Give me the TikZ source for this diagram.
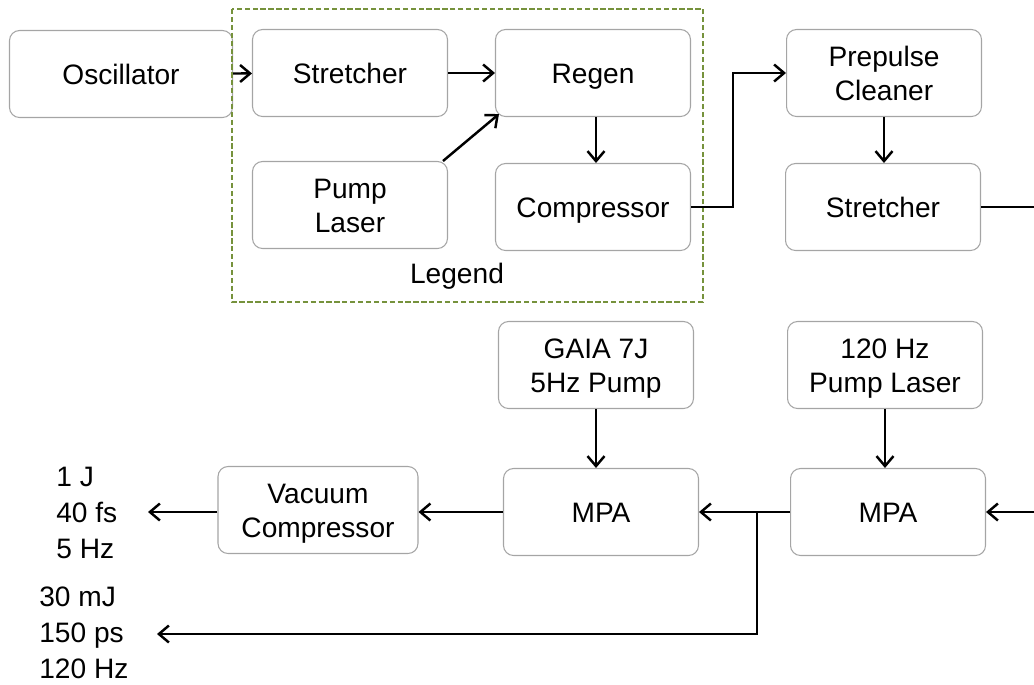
\documentclass[tikz,border=0pt]{standalone}
\usepackage{fontspec}
\setmainfont{Liberation Sans}
\usetikzlibrary{arrows.meta}
\definecolor{boxgray}{RGB}{165,165,165}
\definecolor{legendgreen}{RGB}{118,146,60}

\tikzset{
  block/.style={draw=boxgray, line width=0.6pt, rounded corners=0.2cm,
    minimum width=3.9cm, minimum height=1.74cm, align=center,
    font=\fontsize{16}{19.4}\selectfont, text height=11.5pt, text depth=0pt},
  twoline/.style={text height=30.9pt},
  beam/.style={line width=1.4pt, -{Straight Barb[length=2mm,width=3.4mm]}},
  plainbeam/.style={line width=1.4pt},
  spec/.style={align=left, inner sep=0pt, font=\fontsize{16}{20.5}\selectfont}
}

\begin{document}
\begin{tikzpicture}[x=0.02cm, y=-0.02cm]
    \useasboundingbox (0,0) rectangle (1034,684);
    %Front end
    \node[block, minimum width=4.46cm] (osc) at (121,74) {Oscillator};
    \node[block] (str1) at (350,73) {Stretcher};
    \node[block] (regen) at (593,73) {Regen};
    \node[block, twoline] (pump1) at (350,205) {Pump\\Laser};
    \node[block] (comp1) at (593,207) {Compressor};
    %Legend frame
    \draw[legendgreen, line width=0.6pt, dash pattern=on 3pt off 1.5pt] (232,9) rectangle (703,302);
    \node[font=\fontsize{16}{19.4}\selectfont] (legend) at (457,276) {Legend};
    %Cleaner and stretcher
    \node[block, twoline] (clean) at (884,73) {Prepulse\\Cleaner};
    \node[block] (str2) at (883,207) {Stretcher};
    %Amplifiers
    \node[block, twoline] (gaia) at (596,365) {GAIA 7J\\5Hz Pump};
    \node[block, twoline] (pump2) at (885,365) {120 Hz\\Pump Laser};
    \node[block, twoline, minimum width=4cm] (vac) at (318,510) {Vacuum\\Compressor};
    \node[block] (mpa1) at (601,512) {MPA};
    \node[block] (mpa2) at (888,512) {MPA};
    %Outputs
    \node[spec, anchor=west] (out1) at (56,513) {1 J\\40 fs\\5 Hz};
    \node[spec, anchor=west] (out2) at (39,633) {30 mJ\\150 ps\\120 Hz};
    \coordinate (edgeA) at (1034,209);
    \coordinate (edgeB) at (1034,512);
    \coordinate (tap) at (757,512);
    \coordinate (end1) at (148,512);
    \coordinate (end2) at (157,634);
    %Arrows
    \draw[beam] (osc) -- (str1);
    \draw[beam] (str1) -- (regen);
    \draw[beam] ([xshift=-0.1cm]pump1.north east) -- ([xshift=0.08cm,yshift=0.06cm]regen.south west);
    \draw[beam] ([xshift=0.06cm]regen.south) -- ([xshift=0.06cm]comp1.north);
    \draw[beam] (comp1.east) -- ++(42,0) |- (clean.west);
    \draw[beam] (clean) -- (clean |- str2.north);
    \draw[plainbeam] (str2.east) -- (str2.east -| edgeA);
    \draw[beam] (gaia) -- (gaia |- mpa1.north);
    \draw[beam] (pump2) -- (pump2 |- mpa2.north);
    \draw[beam] (edgeB) -- (mpa2.east);
    \draw[beam] (mpa2.west) -- (mpa1.east);
    \draw[beam] (mpa1.west) -- (mpa1.west -| vac.east);
    \draw[beam] (vac.west |- end1) -- (end1);
    \draw[beam] (tap) |- (end2);
\end{tikzpicture}
\end{document}
